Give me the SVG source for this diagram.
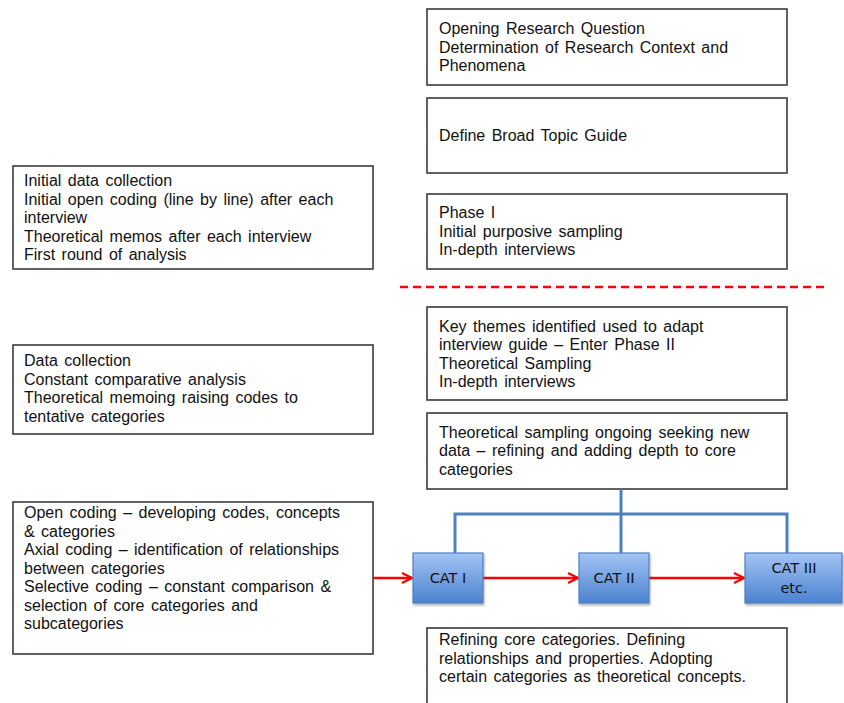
<svg xmlns="http://www.w3.org/2000/svg" width="844" height="703" viewBox="0 0 844 703">
<defs>
<style>
.box{fill:#fff;stroke:#3a3a3a;stroke-width:1.6}
.t{font-family:"Liberation Sans",Arial,sans-serif;font-size:16px;word-spacing:2px;fill:#111}
.cat{stroke:#4f81bd;stroke-width:1.2;fill:url(#g)}
.ct{font-family:"DejaVu Sans",sans-serif;font-size:14.5px;fill:#111;text-anchor:middle}
.blue{stroke:#4f81bd;stroke-width:3;fill:none}
.red{stroke:#ff0000;stroke-width:2.5;fill:none}
</style>
<linearGradient id="g" x1="0" y1="0" x2="0" y2="1">
<stop offset="0" stop-color="#a3c4f5"/>
<stop offset="1" stop-color="#4b82cf"/>
</linearGradient>
<filter id="sh" x="-20%" y="-20%" width="140%" height="150%">
<feDropShadow dx="1" dy="2" stdDeviation="1.2" flood-color="#000" flood-opacity="0.3"/>
</filter>
<marker id="ar" viewBox="0 0 12 12" refX="11" refY="6" markerWidth="12" markerHeight="12" markerUnits="userSpaceOnUse" orient="auto">
<path d="M1,1 L11,6 L1,11" fill="none" stroke="#ff0000" stroke-width="2.2"/>
</marker>
</defs>
<rect width="844" height="703" fill="#fff"/>

<g id="r1"><rect class="box" x="427" y="9" width="360" height="76"/>
<text class="t"><tspan x="439" y="34">Opening Research Question</tspan><tspan x="439" y="52.5">Determination of Research Context and</tspan><tspan x="439" y="71">Phenomena</tspan></text></g>

<g id="r2"><rect class="box" x="427" y="98" width="360" height="75"/>
<text class="t" x="439" y="141">Define Broad Topic Guide</text></g>

<g id="r3"><rect class="box" x="427" y="194" width="360" height="75"/>
<text class="t"><tspan x="439" y="218">Phase I</tspan><tspan x="439" y="236.5">Initial purposive sampling</tspan><tspan x="439" y="255">In-depth interviews</tspan></text></g>

<g id="r4"><rect class="box" x="427" y="307" width="360" height="93"/>
<text class="t"><tspan x="439" y="331.5">Key themes identified used to adapt</tspan><tspan x="439" y="350">interview guide – Enter Phase II</tspan><tspan x="439" y="368.5">Theoretical Sampling</tspan><tspan x="439" y="387">In-depth interviews</tspan></text></g>

<g id="r5"><rect class="box" x="427" y="413" width="360" height="76"/>
<text class="t"><tspan x="439" y="437.5">Theoretical sampling ongoing seeking new</tspan><tspan x="439" y="456">data – refining and adding depth to core</tspan><tspan x="439" y="474.5">categories</tspan></text></g>

<g id="r6"><rect class="box" x="427" y="628" width="360" height="90"/>
<text class="t"><tspan x="439" y="645">Refining core categories. Defining</tspan><tspan x="439" y="663.5">relationships and properties. Adopting</tspan><tspan x="439" y="682">certain categories as theoretical concepts.</tspan></text></g>

<g id="l1"><rect class="box" x="13" y="166" width="360" height="103"/>
<text class="t"><tspan x="24" y="186">Initial data collection</tspan><tspan x="24" y="204.5">Initial open coding (line by line) after each</tspan><tspan x="24" y="223">interview</tspan><tspan x="24" y="241.5">Theoretical memos after each interview</tspan><tspan x="24" y="260">First round of analysis</tspan></text></g>

<g id="l2"><rect class="box" x="13" y="345" width="360" height="89"/>
<text class="t"><tspan x="24" y="366">Data collection</tspan><tspan x="24" y="384.5">Constant comparative analysis</tspan><tspan x="24" y="403">Theoretical memoing raising codes to</tspan><tspan x="24" y="421.5">tentative categories</tspan></text></g>

<g id="l3"><rect class="box" x="13" y="502" width="360" height="152"/>
<text class="t"><tspan x="24" y="518">Open coding – developing  codes, concepts</tspan><tspan x="24" y="536.5">&amp; categories</tspan><tspan x="24" y="555">Axial coding – identification of relationships</tspan><tspan x="24" y="573.5">between categories</tspan><tspan x="24" y="592">Selective coding – constant comparison &amp;</tspan><tspan x="24" y="610.5">selection of core categories and</tspan><tspan x="24" y="629">subcategories</tspan></text></g>

<g id="connectors">
<line x1="400" y1="287" x2="828" y2="287" stroke="#ff0000" stroke-width="2.5" stroke-dasharray="8,5"/>
<path class="blue" d="M621,489 V553 M455,553 V514 H787 V553"/>
<line class="red" x1="373" y1="578" x2="412" y2="578" marker-end="url(#ar)"/>
<line class="red" x1="483" y1="578" x2="578" y2="578" marker-end="url(#ar)"/>
<line class="red" x1="649" y1="578" x2="744" y2="578" marker-end="url(#ar)"/>
</g>

<g id="cat1"><rect class="cat" filter="url(#sh)" x="413" y="553" width="70" height="50"/>
<text class="ct" x="448" y="583">CAT I</text></g>
<g id="cat2"><rect class="cat" filter="url(#sh)" x="579" y="553" width="70" height="50"/>
<text class="ct" x="614" y="583">CAT II</text></g>
<g id="cat3"><rect class="cat" filter="url(#sh)" x="745" y="553" width="97" height="50"/>
<text class="ct"><tspan x="794" y="573">CAT III</tspan><tspan x="794" y="593">etc.</tspan></text></g>
</svg>
